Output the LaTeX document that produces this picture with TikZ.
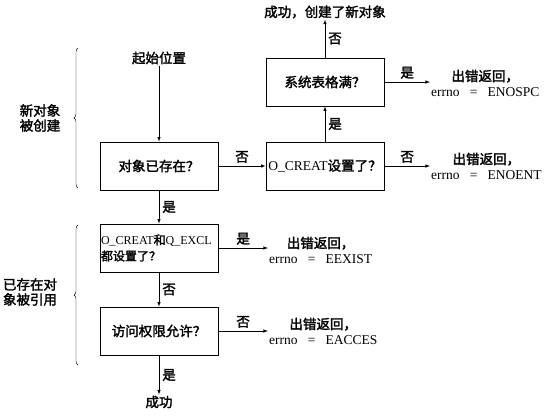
\documentclass[tikz,border=0pt]{standalone}
\usepackage{fontspec}
\setmainfont{Liberation Serif}
\newfontfamily\cjk{Noto Sans CJK SC}[AutoFakeBold=2]
\newcommand{\zh}[1]{{\cjk\bfseries #1}}
\usetikzlibrary{decorations.pathreplacing}
\tikzset{
	box/.style={draw,thick,minimum width=118pt,minimum height=48pt,inner sep=1pt},
	txt/.style={inner sep=1pt,align=center},
	lab/.style={inner sep=3pt},
	arr/.style={-latex,semithick},
	brc/.style={decorate,decoration={brace,amplitude=4pt},thin}
}

\begin{document}
\begin{tikzpicture}[x=1pt,y=-1pt,font=\fontsize{13.5}{15}\selectfont]
					\useasboundingbox (0,0) rectangle (552,420);

					\node [txt] (done) at (325,12) {\zh{成功，创建了新对象}};
					\node [box] (full) at (325,82) {\zh{系统表格满？}};
					\node [box] (creat) at (325,166) {O\_CREAT\zh{设置了？}};
					\node [txt,anchor=west] (enospc) at (430,83) {\zh{出错返回，}\\errno \ \ = \ \ ENOSPC};
					\node [txt,anchor=west] (enoent) at (430,166) {\zh{出错返回，}\\errno \ \ = \ \ ENOENT};

					\node [txt] (start) at (159,58) {\zh{起始位置}};
					\node [box] (exist) at (159,166) {\zh{对象已存在？}};
					\node [box,align=left,text width=116pt,font=\fontsize{12}{16}\selectfont] (excl) at (159,248) {O\_CREAT\zh{和}Q\_EXCL\\\zh{都设置了？}};
					\node [box] (acc) at (159,331) {\zh{访问权限允许？}};
					\node [txt] (ok) at (159,402) {\zh{成功}};
					\node [txt,anchor=west] (eexist) at (268,250) {\zh{出错返回，}\\errno \ \ = \ \ EEXIST};
					\node [txt,anchor=west] (eacces) at (268,331) {\zh{出错返回，}\\errno \ \ = \ \ EACCES};

					\node [txt] (newobj) at (40,118) {\zh{新对象}\\\zh{被创建}};
					\node [txt] (oldobj) at (30,292) {\zh{已存在对}\\\zh{象被引用}};
					\draw [brc] (78,188) -- (78,48);
					\draw [brc] (78,365) -- (78,225);

					\draw [arr] (start) -- (exist);
					\draw [arr] (exist) -- node [lab,above] {\zh{否}} (creat);
					\draw [arr] (creat) -- node [lab,right] {\zh{是}} (full);
					\draw [arr] (full) -- node [lab,right] {\zh{否}} (done);
					\draw [arr] (full.east) -- node [lab,above] {\zh{是}} (full.east -| enospc.west);
					\draw [arr] (creat.east) -- node [lab,above] {\zh{否}} (creat.east -| enoent.west);
					\draw [arr] (exist) -- node [lab,right] {\zh{是}} (excl);
					\draw [arr] (excl.east) -- node [lab,above] {\zh{是}} (excl.east -| eexist.west);
					\draw [arr] (excl) -- node [lab,right] {\zh{否}} (acc);
					\draw [arr] (acc.east) -- node [lab,above] {\zh{否}} (acc.east -| eacces.west);
					\draw [arr] (acc) -- node [lab,right] {\zh{是}} (ok);
				\end{tikzpicture}
\end{document}
